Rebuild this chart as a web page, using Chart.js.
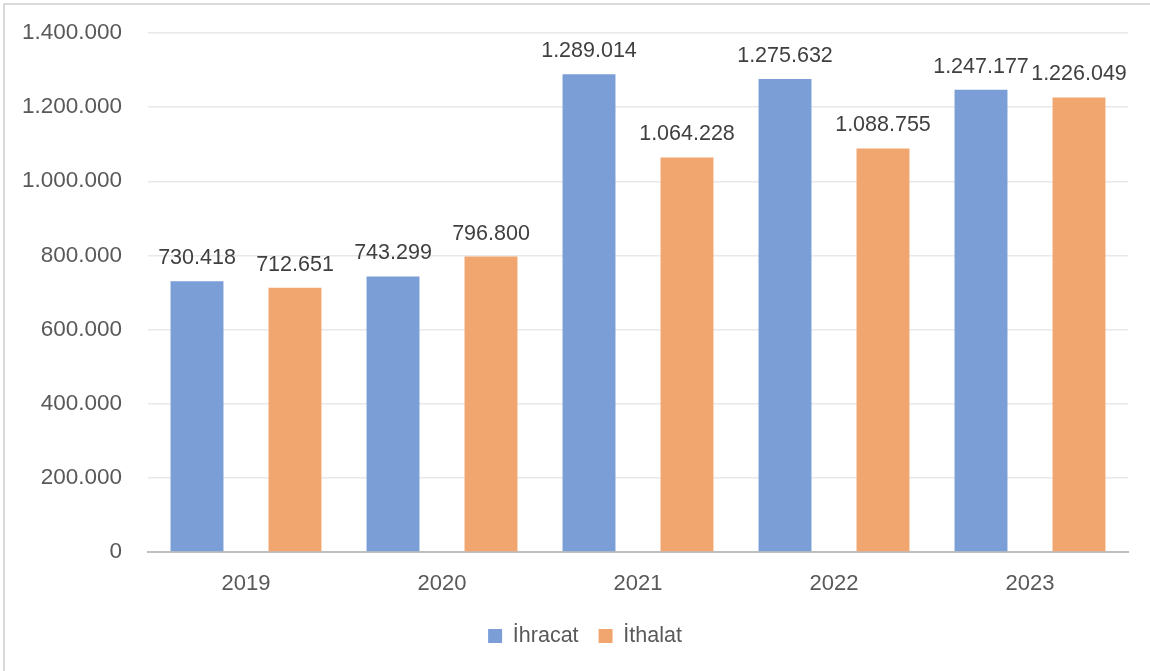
<!DOCTYPE html>
<html><head><meta charset="utf-8">
<script src="https://cdn.jsdelivr.net/npm/chart.js@4"></script>
<style>html,body{margin:0;padding:0;background:#fff;}#wrap{width:1150px;height:671px;position:relative;}</style>
</head><body><div id="wrap"><canvas id="c" width="1150" height="671"></canvas></div>
<script>
const categories = ['2019', '2020', '2021', '2022', '2023'];
const ihracat = [730418, 743299, 1289014, 1275632, 1247177];
const ithalat = [712651, 796800, 1064228, 1088755, 1226049];
const seriesNames = ['İhracat', 'İthalat'];
const yTicks = [0, 200000, 400000, 600000, 800000, 1000000, 1200000, 1400000];

const FONT = '"Liberation Sans", Arial, sans-serif';
const fmt = v => v.toString().replace(/\B(?=(\d{3})+(?!\d))/g, '.');

const labelPlugin = {
  id: 'labels',
  afterLayout(chart) {
    if (chart.legend) { chart.legend.left += 21; chart.legend.right += 21; }
  },
  afterDatasetsDraw(chart) {
    const ctx = chart.ctx;
    ctx.save();
    ctx.font = '21.5px ' + FONT;
    ctx.fillStyle = '#404040';
    ctx.textAlign = 'center';
    ctx.textBaseline = 'alphabetic';
    chart.data.datasets.forEach((ds, i) => {
      chart.getDatasetMeta(i).data.forEach((bar, j) => {
        ctx.fillText(fmt(ds.data[j]), bar.x, bar.y - 17);
      });
    });
    ctx.restore();
  }
};
const borderPlugin = {
  id: 'frame',
  beforeDraw(chart) {
    const ctx = chart.ctx;
    ctx.save();
    ctx.fillStyle = '#fff';
    ctx.fillRect(0, 0, chart.width, chart.height);
    ctx.fillStyle = '#d9d9d9';
    ctx.fillRect(3, 3, chart.width - 3, 2);
    ctx.fillRect(3, 3, 2, chart.height - 3);
    ctx.restore();
  }
};

new Chart(document.getElementById('c'), {
  type: 'bar',
  data: {
    labels: categories,
    datasets: [
      { label: seriesNames[0], data: ihracat, backgroundColor: '#7b9ed7', barPercentage: 0.54, categoryPercentage: 1.0 },
      { label: seriesNames[1], data: ithalat, backgroundColor: '#f1a56f', barPercentage: 0.54, categoryPercentage: 1.0 }
    ]
  },
  options: {
    responsive: false,
    animation: false,
    layout: { autoPadding: false, padding: { top: 33, right: 22, bottom: 14.25, left: 0 } },
    plugins: {
      tooltip: { enabled: false },
      legend: {
        position: 'bottom',
        labels: {
          font: { family: FONT, size: 21.5 },
          color: '#595959',
          boxWidth: 14, boxHeight: 14, padding: 20,
          generateLabels(chart) {
            return chart.data.datasets.map((d, i) => ({
              text: d.label, fillStyle: d.backgroundColor, strokeStyle: d.backgroundColor,
              lineWidth: 0, datasetIndex: i, fontColor: '#595959'
            }));
          }
        }
      }
    },
    scales: {
      x: {
        grid: { display: false, drawTicks: false },
        border: { display: true, color: '#bfbfbf', width: 2 },
        ticks: { font: { family: FONT, size: 22 }, color: '#595959', padding: 19 },
        afterFit(s) { s.height = 53.25; }
      },
      y: {
        min: 0, max: 1400000,
        afterBuildTicks(s) { s.ticks = yTicks.map(v => ({ value: v })); },
        grid: { color: '#e8e8e8', lineWidth: 1.5, drawTicks: false },
        border: { display: false },
        ticks: { font: { family: FONT, size: 22.5 }, color: '#595959', padding: 26, callback: v => fmt(v) },
        afterFit(s) { s.width = 148; s.paddingTop = 0; s.paddingBottom = 0; }
      }
    }
  },
  plugins: [labelPlugin, borderPlugin]
});
</script></body></html>
